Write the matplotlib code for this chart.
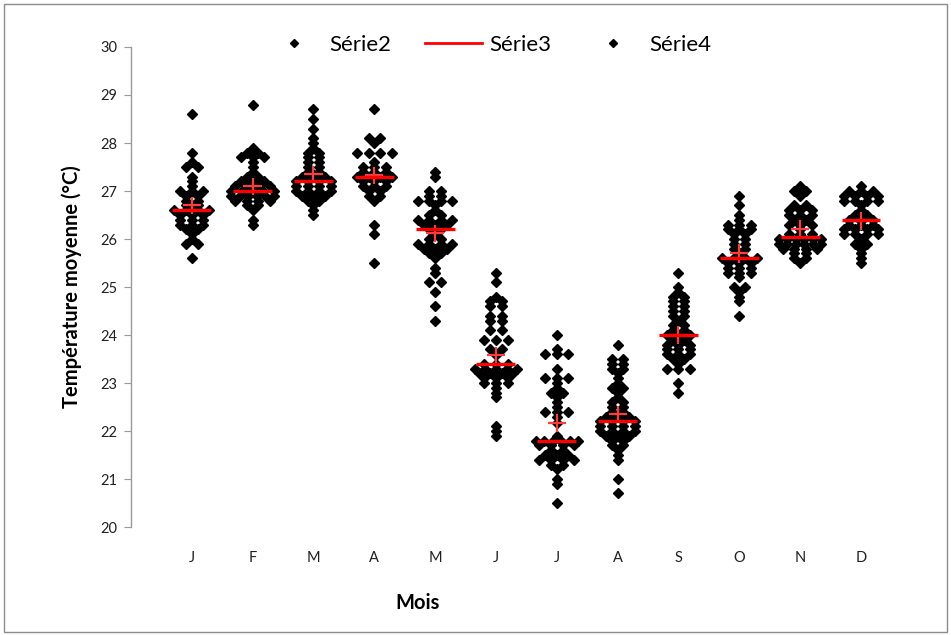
import numpy as np
import matplotlib
matplotlib.use('Agg')
import matplotlib.pyplot as plt
from matplotlib.lines import Line2D
from matplotlib.patches import Rectangle
from collections import Counter

plt.rcParams['font.family'] = ['Lato', 'DejaVu Sans']

months = ['J', 'F', 'M', 'A', 'M', 'J', 'J', 'A', 'S', 'O', 'N', 'D']

# Série2 : température moyenne de chaque année, par mois
jan = [28.6, 27.8, 27.6, 27.5, 27.5, 27.3, 27.2, 27.1, 27.0, 27.0, 27.0, 26.9, 26.9, 26.8, 26.8,
       26.7, 26.7, 26.6, 26.6, 26.6, 26.6, 26.5, 26.5, 26.5, 26.4, 26.4, 26.4, 26.3, 26.3, 26.3,
       26.2, 26.2, 26.1, 26.0, 25.9, 25.9, 25.6]
feb = [28.8, 27.9, 27.8, 27.8, 27.7, 27.7, 27.7, 27.6, 27.5, 27.4, 27.3, 27.3, 27.2, 27.2, 27.2,
       27.1, 27.1, 27.1, 27.1, 27.0, 27.0, 27.0, 27.0, 27.0, 26.9, 26.9, 26.9, 26.9, 26.9, 26.9,
       26.8, 26.8, 26.8, 26.8, 26.7, 26.7, 26.6, 26.4, 26.3]
mar = [28.7, 28.5, 28.3, 28.1, 28.0, 27.9, 27.8, 27.8, 27.7, 27.7, 27.6, 27.6, 27.5, 27.5, 27.4,
       27.4, 27.3, 27.3, 27.3, 27.2, 27.2, 27.2, 27.2, 27.1, 27.1, 27.1, 27.1, 27.0, 27.0, 27.0,
       27.0, 26.9, 26.9, 26.9, 26.8, 26.8, 26.7, 26.6, 26.5]
apr = [28.7, 28.1, 28.1, 28.0, 27.8, 27.8, 27.8, 27.8, 27.6, 27.5, 27.5, 27.5, 27.4, 27.4, 27.4,
       27.3, 27.3, 27.3, 27.3, 27.2, 27.2, 27.2, 27.1, 27.1, 27.1, 27.0, 27.0, 26.9, 26.9, 26.8,
       26.3, 26.1, 25.5]
may = [27.4, 27.3, 27.0, 27.0, 26.9, 26.9, 26.8, 26.8, 26.8, 26.8, 26.7, 26.6, 26.5, 26.5, 26.4,
       26.4, 26.4, 26.4, 26.3, 26.3, 26.3, 26.2, 26.2, 26.1, 26.0, 26.0, 25.9, 25.9, 25.9, 25.9,
       25.8, 25.8, 25.8, 25.7, 25.7, 25.6, 25.4, 25.3, 25.1, 25.1, 24.9, 24.6, 24.3]
jun = [25.3, 25.1, 24.8, 24.7, 24.7, 24.6, 24.6, 24.4, 24.4, 24.3, 24.3, 24.1, 24.1, 23.9, 23.9,
       23.9, 23.7, 23.7, 23.6, 23.4, 23.4, 23.4, 23.3, 23.3, 23.3, 23.3, 23.3, 23.2, 23.2, 23.2,
       23.2, 23.1, 23.1, 23.1, 23.0, 23.0, 23.0, 22.9, 22.8, 22.7, 22.1, 22.0, 21.9]
jul = [24.0, 23.7, 23.6, 23.6, 23.6, 23.3, 23.1, 23.1, 23.1, 23.0, 22.9, 22.8, 22.8, 22.7, 22.6,
       22.5, 22.4, 22.4, 22.4, 22.3, 21.9, 21.8, 21.8, 21.8, 21.8, 21.8, 21.8, 21.7, 21.7, 21.7,
       21.7, 21.6, 21.6, 21.5, 21.5, 21.5, 21.4, 21.4, 21.4, 21.4, 21.3, 21.3, 21.2, 21.0, 20.9,
       20.5]
aug = [23.8, 23.5, 23.5, 23.4, 23.4, 23.3, 23.3, 23.2, 23.1, 23.0, 22.9, 22.9, 22.8, 22.7, 22.6,
       22.6, 22.5, 22.5, 22.4, 22.4, 22.3, 22.3, 22.3, 22.2, 22.2, 22.2, 22.2, 22.1, 22.1, 22.1,
       22.1, 22.0, 22.0, 22.0, 22.0, 21.9, 21.9, 21.9, 21.8, 21.8, 21.7, 21.7, 21.6, 21.5, 21.4,
       21.0, 20.7]
sep = [25.3, 25.0, 24.9, 24.8, 24.8, 24.7, 24.7, 24.6, 24.6, 24.5, 24.5, 24.4, 24.4, 24.3, 24.2,
       24.2, 24.1, 24.1, 24.0, 24.0, 24.0, 23.9, 23.9, 23.8, 23.8, 23.8, 23.7, 23.7, 23.7, 23.6,
       23.6, 23.6, 23.5, 23.5, 23.4, 23.3, 23.3, 23.3, 23.0, 22.8]
oct_ = [26.9, 26.7, 26.5, 26.4, 26.3, 26.3, 26.3, 26.2, 26.2, 26.2, 26.1, 26.1, 26.0, 26.0, 25.9,
        25.9, 25.8, 25.8, 25.7, 25.6, 25.6, 25.6, 25.6, 25.5, 25.5, 25.5, 25.4, 25.4, 25.4, 25.3,
        25.3, 25.3, 25.2, 25.0, 25.0, 24.9, 24.8, 24.7, 24.4]
nov = [27.1, 27.0, 27.0, 26.9, 26.7, 26.7, 26.6, 26.6, 26.6, 26.5, 26.5, 26.5, 26.4, 26.4, 26.3,
       26.3, 26.3, 26.2, 26.1, 26.1, 26.1, 26.0, 26.0, 26.0, 26.0, 26.0, 26.0, 25.9, 25.9, 25.9,
       25.9, 25.9, 25.9, 25.8, 25.8, 25.8, 25.8, 25.7, 25.7, 25.6, 25.6, 25.5]
dec = [27.1, 27.0, 27.0, 27.0, 26.9, 26.9, 26.9, 26.9, 26.8, 26.8, 26.8, 26.8, 26.7, 26.6, 26.5,
       26.5, 26.4, 26.4, 26.4, 26.3, 26.3, 26.3, 26.2, 26.2, 26.2, 26.2, 26.1, 26.1, 26.1, 26.1,
       26.0, 25.9, 25.9, 25.8, 25.7, 25.6, 25.5]
serie2 = [jan, feb, mar, apr, may, jun, jul, aug, sep, oct_, nov, dec]

# Série3 : médianes
medians = [26.6, 27.0, 27.2, 27.3, 26.2, 23.4, 21.8, 22.2, 24.0, 25.6, 26.05, 26.4]
# Série4 : moyennes et intervalles
means = [26.7, 27.1, 27.35, 27.33, 26.12, 23.58, 22.17, 22.35, 24.0, 25.7, 26.2, 26.38]
mean_err = [0.18, 0.18, 0.18, 0.18, 0.18, 0.18, 0.18, 0.18, 0.18, 0.19, 0.19, 0.19]

fig = plt.figure(figsize=(9.51, 6.35), dpi=100)
ax = fig.add_axes([0.1377, 0.170, 0.8316, 0.756])

xpos = np.arange(1, len(months) + 1)

# nuage de points, décalés horizontalement quand les valeurs sont égales
for i, vals in enumerate(serie2):
    counts = Counter(vals)
    seen = Counter()
    xs = []
    for v in vals:
        n = counts[v]
        k = seen[v]
        seen[v] += 1
        dx = 0.19 if n < 5 else 0.7 / (n - 1)
        xs.append(xpos[i] + (k - (n - 1) / 2) * dx)
    ax.plot(xs, vals, linestyle='none', marker='D', markersize=5.5,
            color='black', zorder=2)

# moyennes (marqueur) puis barres
ax.plot(xpos, means, linestyle='none', marker='D', markersize=5.5, color='black', zorder=2)
ax.errorbar(xpos, means, xerr=0.15, yerr=mean_err, fmt='none',
            ecolor='#ff3b3b', elinewidth=1.6, capsize=0, zorder=4)

# médianes
ax.errorbar(xpos, medians, xerr=0.32, fmt='none', ecolor='#ff0000',
            elinewidth=2.4, capsize=0, zorder=5)

ax.set_xlim(0, 13)
ax.set_ylim(20, 30)
ax.set_yticks(np.arange(20, 31, 1))
ax.set_xticks(xpos)
ax.set_xticklabels(months)

for s in ['top', 'right', 'bottom']:
    ax.spines[s].set_visible(False)
ax.spines['left'].set_color('#9a9a9a')
ax.spines['left'].set_linewidth(1.0)
ax.tick_params(axis='y', direction='out', length=5, color='#9a9a9a',
               labelsize=10.5, pad=5, labelcolor='#202020')
ax.tick_params(axis='x', length=0, labelsize=10.5, pad=17, labelcolor='#202020')

ax.set_ylabel('Température moyenne (°C)', fontsize=14.5, fontweight='bold', labelpad=13)
ax.set_xlabel('Mois', fontsize=14.5, fontweight='bold')
ax.xaxis.set_label_coords(0.362, -0.137)

handles = [
    Line2D([], [], linestyle='none', marker='D', markersize=4.5, color='black'),
    Line2D([], [], color='#ff0000', linewidth=2),
    Line2D([], [], linestyle='none', marker='D', markersize=4.5, color='black'),
]
fig.legend(handles, ['Série2', 'Série3', 'Série4'], loc='center',
           bbox_to_anchor=(0.513, 0.929), ncol=3, frameon=False, fontsize=16,
           handlelength=2.6, columnspacing=1.5, handletextpad=0.3)

fig.patches.append(Rectangle((0.004, 0.004), 0.992, 0.99, transform=fig.transFigure,
                             fill=False, edgecolor='#8c8c8c', linewidth=1.0))

fig.savefig('out.png', dpi=100)
